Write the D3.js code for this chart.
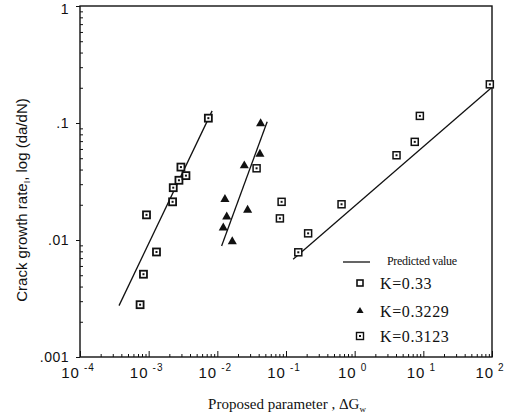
<!DOCTYPE html>
<html>
<head>
<meta charset="utf-8">
<script src="https://cdn.jsdelivr.net/npm/d3@7"></script>
<style>
  body { margin: 0; background: #fff; }
  svg { display: block; }
  .frame { fill: none; stroke: #111; stroke-width: 1.4; }
  .fit { fill: none; stroke: #111; stroke-width: 1.3; }
  .tick-label { font-family: "Liberation Sans", Arial, sans-serif; fill: #111; }
  .serif { font-family: "Liberation Serif", "Times New Roman", serif; fill: #111; }
</style>
</head>
<body>
<svg width="514" height="420"></svg>
<script>
// x decades and y decades shown on the axes
const xDecades = [1e-4, 1e-3, 1e-2, 1e-1, 1e0, 1e1, 1e2];
const xExponents = ["-4", "-3", "-2", "-1", "0", "1", "2"];
const yDecades = [0.001, 0.01, 0.1, 1];
const yLabels = [".001", ".01", ".1", "1"];

// measured points [ΔGw, da/dN]
const k033 = [
  [7.5e-4, 0.0028], [8.4e-4, 0.0051], [9.3e-4, 0.0164], [1.3e-3, 0.0079],
  [2.23e-3, 0.0212], [2.28e-3, 0.028], [2.76e-3, 0.0324], [2.95e-3, 0.042],
  [3.49e-3, 0.0355], [7.4e-3, 0.11]
];
const k03229 = [
  [0.0427, 0.099], [0.0417, 0.0543], [0.0247, 0.0432], [0.0129, 0.0223],
  [0.0137, 0.0158], [0.0122, 0.0127], [0.0165, 0.0097], [0.0276, 0.018]
];
const k03123 = [
  [0.0373, 0.041], [0.0815, 0.0153], [0.0863, 0.0212], [0.151, 0.00785],
  [0.21, 0.0114], [0.644, 0.0202], [4.07, 0.053], [7.5, 0.069],
  [8.9, 0.115], [93, 0.214]
];

// predicted value lines (end points)
const fit033 = [[3.7e-4, 0.00275], [8.4e-3, 0.127]];
const fit03229 = [[0.01154, 0.0089], [0.0532, 0.1026]];
const fit03123 = [[0.127, 0.00684], [100, 0.2018]];

const legendLabels = ["Predicted value", "K=0.33", "K=0.3229", "K=0.3123"];

const svg = d3.select("svg");
const margin = {left: 80, right: 22, top: 6, bottom: 63};
const width = 514, height = 420;

const x = d3.scaleLog().domain([1e-4, 1e2]).range([margin.left, width - margin.right]);
const y = d3.scaleLog().domain([0.001, 1]).range([height - margin.bottom, margin.top]);

// minor ticks inside the frame
const xMinor = x.ticks().filter(v => !xDecades.some(d => Math.abs(v - d) / d < 1e-6));
const yMinor = y.ticks().filter(v => !yDecades.some(d => Math.abs(v - d) / d < 1e-6));

svg.append("g")
  .attr("transform", `translate(0,${y.range()[0]})`)
  .call(d3.axisBottom(x).tickValues(xMinor).tickSize(-3).tickFormat(""))
  .call(g => g.select(".domain").remove());
svg.append("g")
  .attr("transform", `translate(0,${y.range()[0]})`)
  .call(d3.axisBottom(x).tickValues(xDecades).tickSizeInner(-6).tickSizeOuter(0).tickFormat(""))
  .call(g => g.select(".domain").remove());

svg.append("g")
  .attr("transform", `translate(${x.range()[0]},0)`)
  .call(d3.axisLeft(y).tickValues(yMinor).tickSize(-3).tickFormat(""))
  .call(g => g.select(".domain").remove());
svg.append("g")
  .attr("transform", `translate(${x.range()[0]},0)`)
  .call(d3.axisLeft(y).tickValues(yDecades).tickSize(4).tickFormat(""))
  .call(g => g.select(".domain").remove());

svg.selectAll(".tick line").attr("stroke", "#111").attr("stroke-width", 1);

svg.append("rect")
  .attr("class", "frame")
  .attr("x", x.range()[0]).attr("y", y.range()[1])
  .attr("width", x.range()[1] - x.range()[0])
  .attr("height", y.range()[0] - y.range()[1]);

// y tick labels
svg.selectAll("text.ylab")
  .data(yDecades)
  .enter()
  .append("text")
  .attr("class", "tick-label ylab")
  .attr("x", x.range()[0] - 11)
  .attr("y", d => Math.max(y(d) + 5, 14))
  .attr("text-anchor", "end")
  .attr("font-size", 14)
  .attr("letter-spacing", 0.5)
  .text((d, i) => yLabels[i]);

// x tick labels: 10 with superscript
const xl = svg.selectAll("text.xlab")
  .data(xDecades)
  .enter()
  .append("text")
  .attr("class", "tick-label xlab")
  .attr("x", d => x(d) - 2)
  .attr("y", 378)
  .attr("text-anchor", "middle")
  .attr("font-size", 15)
  .attr("letter-spacing", 1);
xl.append("tspan").text("10");
xl.append("tspan")
  .attr("dx", 4)
  .attr("dy", -7)
  .attr("font-size", 10)
  .text((d, i) => xExponents[i]);

// axis titles
const xt = svg.append("text")
  .attr("class", "serif")
  .attr("x", 287)
  .attr("y", 409)
  .attr("text-anchor", "middle")
  .attr("font-size", 15);
xt.append("tspan").text("Proposed parameter ,  ΔG");
xt.append("tspan").attr("dy", 3).attr("font-size", 9).text("w");

const yt = svg.append("text")
  .attr("class", "tick-label")
  .attr("transform", "translate(27,200) rotate(-90)")
  .attr("text-anchor", "middle")
  .attr("font-size", 15)
  .attr("fill", "#333");
yt.append("tspan").text("Crack growth rate");
yt.append("tspan").attr("dy", 3).attr("font-size", 9).text("I");
yt.append("tspan").attr("dy", -3).text(", log (da/dN)");

// fitted lines
const line = d3.line().x(d => x(d[0])).y(d => y(d[1]));
svg.selectAll("path.fit")
  .data([fit033, fit03229, fit03123])
  .enter()
  .append("path")
  .attr("class", "fit")
  .attr("d", line);

// markers
function drawSquares(data, size, strokeW) {
  const g = svg.append("g");
  const m = g.selectAll("g.pt").data(data).enter().append("g")
    .attr("transform", d => `translate(${x(d[0])},${y(d[1])})`);
  m.append("rect")
    .attr("x", -size / 2).attr("y", -size / 2)
    .attr("width", size).attr("height", size)
    .attr("fill", "#fff").attr("stroke", "#111").attr("stroke-width", strokeW);
  m.append("rect")
    .attr("x", -1).attr("y", -1).attr("width", 2).attr("height", 2)
    .attr("fill", "#111");
}
drawSquares(k033, 7, 1.8);
drawSquares(k03123, 7, 1.5);

const tri = d3.symbol().type(d3.symbolTriangle).size(36);
svg.append("g").selectAll("path.tri")
  .data(k03229)
  .enter()
  .append("path")
  .attr("class", "tri")
  .attr("transform", d => `translate(${x(d[0])},${y(d[1])})`)
  .attr("d", tri)
  .attr("fill", "#111");

// legend
const lg = svg.append("g");
lg.append("line")
  .attr("x1", 343).attr("x2", 370).attr("y1", 262).attr("y2", 262)
  .attr("stroke", "#111").attr("stroke-width", 1.3);
lg.append("text").attr("class", "serif")
  .attr("x", 387).attr("y", 265).attr("font-size", 12).attr("letter-spacing", -0.3)
  .text(legendLabels[0]);

const rows = [283, 311, 336];
rows.forEach((ry, i) => {
  lg.append("text").attr("class", "serif")
    .attr("x", 380).attr("y", ry + 6).attr("font-size", 16).attr("letter-spacing", 0.6)
    .text(legendLabels[i + 1]);
});
lg.append("rect").attr("x", 357).attr("y", rows[0] - 3).attr("width", 6).attr("height", 6)
  .attr("fill", "#fff").attr("stroke", "#111").attr("stroke-width", 1.6);
lg.append("path").attr("d", d3.symbol().type(d3.symbolTriangle).size(22))
  .attr("transform", `translate(360,${rows[1]})`).attr("fill", "#111");
lg.append("rect").attr("x", 356.5).attr("y", rows[2] - 3.5).attr("width", 7).attr("height", 7)
  .attr("fill", "#fff").attr("stroke", "#111").attr("stroke-width", 1.4);
lg.append("rect").attr("x", 359).attr("y", rows[2] - 1).attr("width", 2).attr("height", 2)
  .attr("fill", "#111");
</script>
</body>
</html>
